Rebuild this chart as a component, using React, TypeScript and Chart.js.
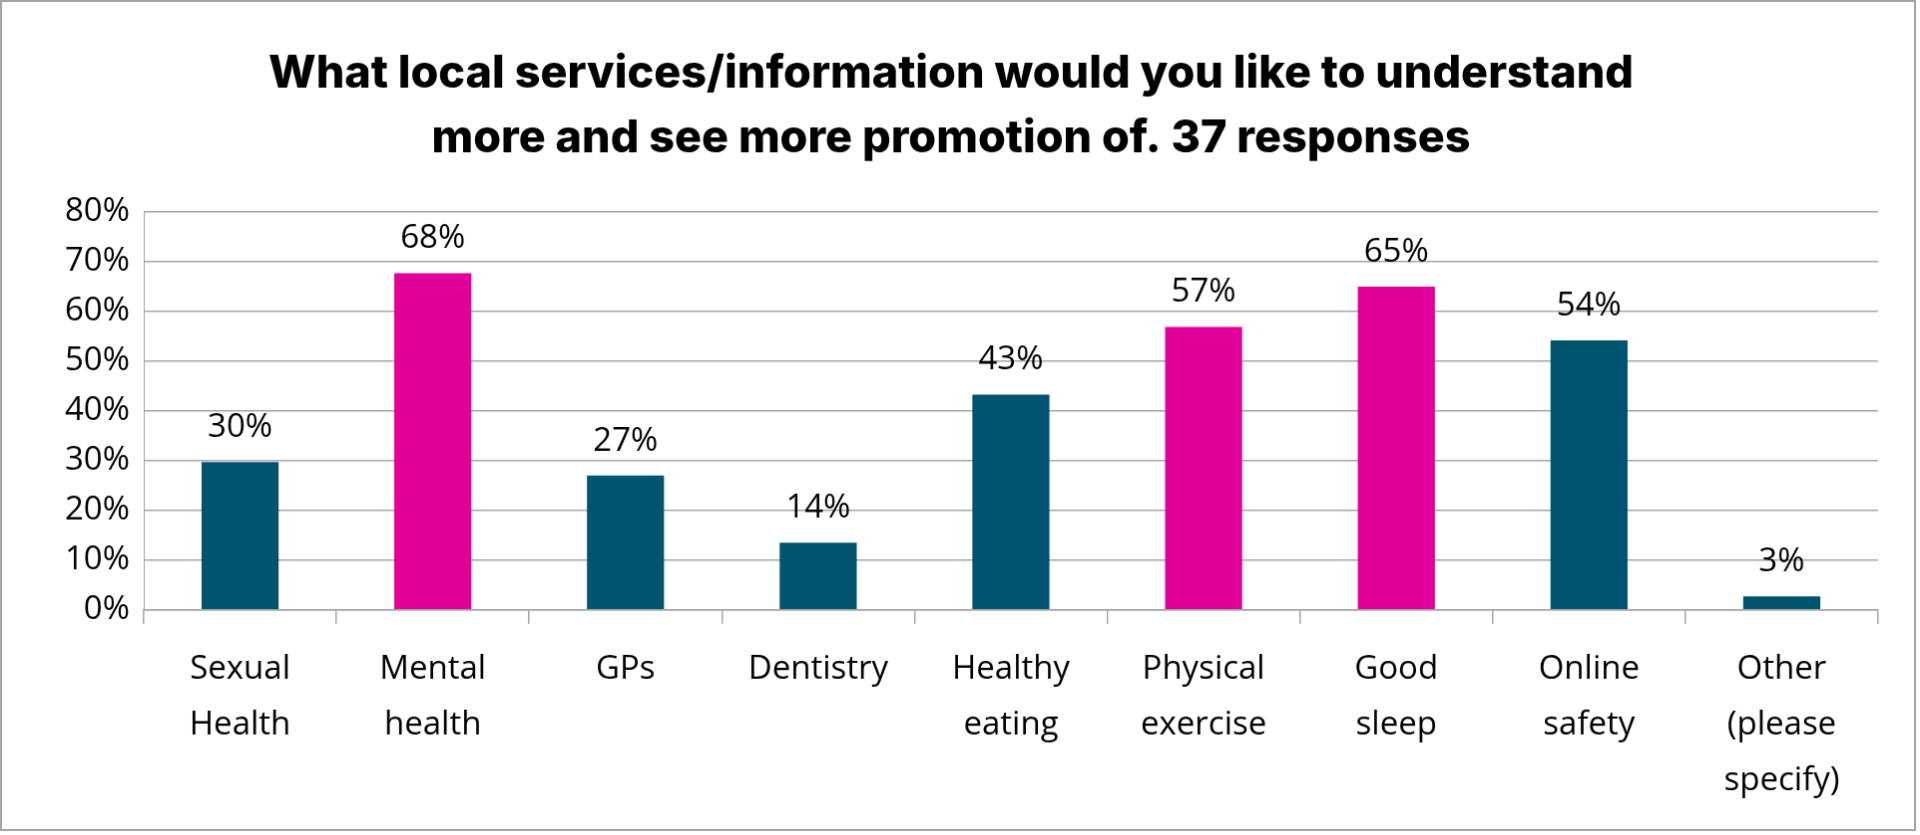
import React, { useEffect, useRef } from "react";
import { Chart, registerables } from "chart.js";
Chart.register(...registerables);

const categories = [["Sexual", "Health"], ["Mental", "health"], ["GPs"], ["Dentistry"], ["Healthy", "eating"], ["Physical", "exercise"], ["Good", "sleep"], ["Online", "safety"], ["Other", "(please", "specify)"]];
const values = [29.7, 67.6, 27.0, 13.5, 43.2, 56.8, 64.9, 54.1, 2.7];
const colors = ["#00546F", "#E2009A", "#00546F", "#00546F", "#00546F", "#E2009A", "#E2009A", "#00546F", "#00546F"];
const titleLines = ["What local services/information would you like to understand", "more and see more promotion of. 37 responses"];

const labelPlugin = {
  id: "vals",
  afterDatasetsDraw(chart: any) {
    const ctx = chart.ctx;
    const meta = chart.getDatasetMeta(0);
    ctx.save();
    ctx.font = "33px 'Open Sans', sans-serif";
    ctx.fillStyle = "#000";
    ctx.textAlign = "center";
    ctx.textBaseline = "bottom";
    meta.data.forEach((b: any, i: number) => {
      ctx.fillText(Math.round(values[i]) + "%", b.x, b.y - 18);
    });
    ctx.restore();
  },
};

export default function App() {
  const ref = useRef<HTMLCanvasElement>(null);
  useEffect(() => {
    const c = new Chart(ref.current!, {
      type: "bar",
      data: { labels: categories as any, datasets: [{ data: values, backgroundColor: colors, barPercentage: 0.4, categoryPercentage: 1 }] },
      options: {
        animation: false,
        responsive: false,
        layout: { padding: { left: 22, right: 36, top: 14, bottom: 2 } },
        plugins: {
          legend: { display: false },
          tooltip: { enabled: false },
          title: { display: true, text: titleLines, color: "#000", font: { family: "Inter, sans-serif", weight: 800, size: 45, lineHeight: 1.45 }, padding: { top: 26, bottom: 40 } },
        },
        scales: {
          y: {
            min: 0, max: 80,
            afterFit: (s: any) => { s.width = 120; },
            ticks: { stepSize: 10, callback: (v: any) => v + "%", color: "#000", font: { family: "'Open Sans', sans-serif", size: 33 }, padding: 14 },
            grid: { color: "#a6a6a6", lineWidth: 1.5, drawTicks: false },
            border: { display: true, color: "#a6a6a6" },
          },
          x: {
            ticks: { color: "#000", font: { family: "'Open Sans', sans-serif", size: 33, lineHeight: 1.7 }, padding: 18, maxRotation: 0 },
            grid: { offset: true, drawOnChartArea: false, color: "#a6a6a6", tickLength: 14, lineWidth: 1.5 },
            border: { color: "#a6a6a6", width: 1.5 },
          },
        },
      },
      plugins: [labelPlugin],
    });
    return () => c.destroy();
  }, []);
  return (
    <div style={{ position: "fixed", left: 0, top: 0, width: 1920, height: 835, background: "#fff" }}>
      <canvas ref={ref} width={1916} height={831} style={{ border: "2px solid #a6a6a6", display: "block" }} />
    </div>
  );
}
